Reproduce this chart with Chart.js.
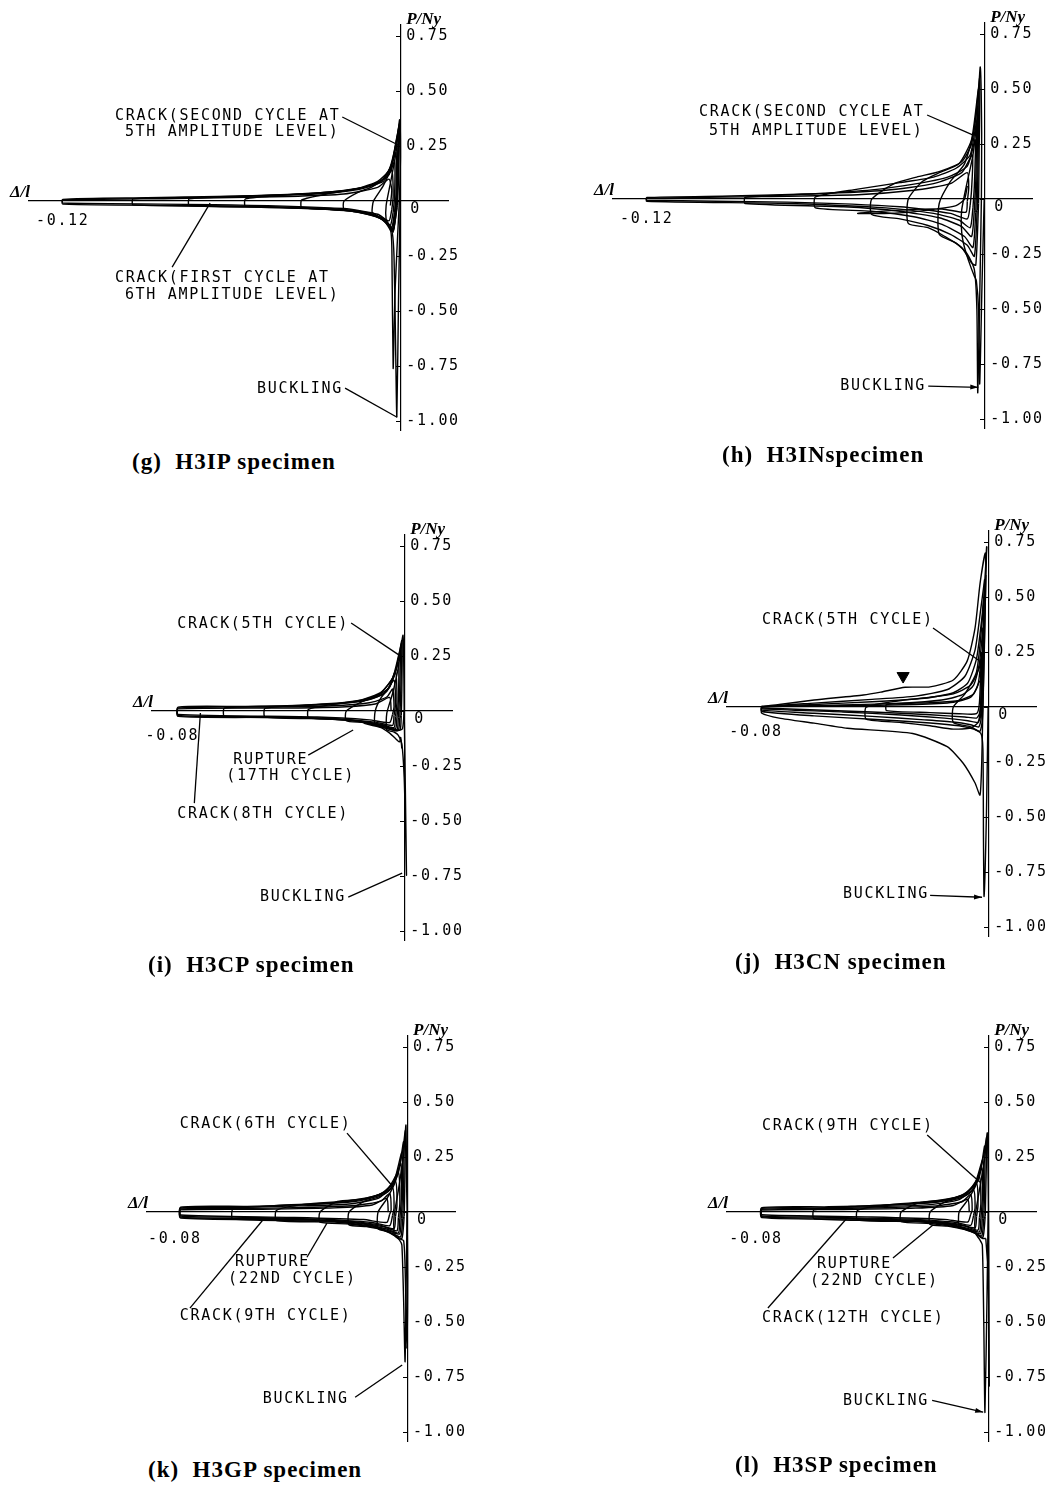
<!DOCTYPE html>
<html lang="en">
<head>
<meta charset="UTF-8">
<title>H3 specimens - hysteresis loops</title>
<script src="https://cdn.jsdelivr.net/npm/chart.js"></script>
<style>
  html, body { margin: 0; padding: 0; background: #fff; overflow: hidden; }
  body { width: 1045px; height: 1487px; position: relative; }
  canvas { position: absolute; }
  .cap { position: absolute; font: bold 23px "Liberation Serif", serif; line-height: 1; white-space: pre; letter-spacing: 1px; color: #000; }
</style>
</head>
<body>
<script>
// axis ticks
const yTicks = [0.75, 0.5, 0.25, 0, -0.25, -0.5, -0.75, -1.0];
const Y_MIN = -1.04, Y_MAX = 0.8;

// loops, [Δ/l, P/Ny]
const gLoops = [
  [[0,0],[-0.0006,-0.45],[-0.0012,-0.98],[-0.0017,-0.6],[-0.0022,-0.25],[-0.0028,-0.145],[-0.004,-0.11],[-0.005,-0.085],[-0.005,-0.02],[-0.0035,0.08],[-0.0015,0.22],[-0.0002,0.37],[0.0001,0.2],[-0.0003,0]],
  [[-0.0003,0],[-0.0018,-0.4],[-0.0025,-0.76],[-0.0029,-0.3],[-0.0033,-0.14],[-0.006,-0.085],[-0.009,-0.06],[-0.01,-0.05],[-0.0095,0.0],[-0.006,0.07],[-0.003,0.16],[-0.001,0.3],[-0.0003,0.35],[-0.0006,0.1],[-0.001,-0.02]],
  [[-0.001,-0.02],[-0.0022,-0.12],[-0.003,-0.135],[-0.005,-0.095],[-0.01,-0.06],[-0.015,-0.045],[-0.02,-0.037],[-0.02,0.0],[-0.015,0.04],[-0.01,0.065],[-0.005,0.11],[-0.003,0.17],[-0.0015,0.27],[-0.0005,0.33],[-0.0008,0.1],[-0.0012,-0.03]],
  [[-0.0012,-0.03],[-0.0023,-0.13],[-0.0032,-0.125],[-0.006,-0.085],[-0.012,-0.055],[-0.02,-0.04],[-0.035,-0.03],[-0.035,0.005],[-0.025,0.035],[-0.015,0.058],[-0.008,0.09],[-0.004,0.14],[-0.002,0.23],[-0.0008,0.3],[-0.001,0.08],[-0.0015,-0.04]],
  [[-0.0015,-0.04],[-0.0025,-0.14],[-0.0036,-0.118],[-0.007,-0.08],[-0.015,-0.05],[-0.03,-0.034],[-0.055,-0.024],[-0.055,0.01],[-0.04,0.028],[-0.025,0.042],[-0.012,0.066],[-0.006,0.1],[-0.003,0.17],[-0.0012,0.26],[-0.0012,0.05],[-0.0018,-0.05]],
  [[-0.0018,-0.05],[-0.0028,-0.13],[-0.004,-0.11],[-0.008,-0.072],[-0.018,-0.045],[-0.04,-0.03],[-0.075,-0.02],[-0.075,0.01],[-0.05,0.024],[-0.03,0.036],[-0.015,0.056],[-0.007,0.09],[-0.0035,0.15],[-0.0015,0.22],[-0.0015,0.03],[-0.002,-0.05]],
  [[-0.002,-0.05],[-0.003,-0.12],[-0.005,-0.09],[-0.01,-0.062],[-0.02,-0.042],[-0.05,-0.026],[-0.095,-0.017],[-0.095,0.01],[-0.07,0.018],[-0.04,0.03],[-0.02,0.046],[-0.009,0.076],[-0.004,0.12],[-0.002,0.18],[-0.002,0.02],[-0.0025,-0.05]],
  [[-0.0025,-0.05],[-0.0035,-0.11],[-0.006,-0.08],[-0.012,-0.052],[-0.025,-0.034],[-0.06,-0.022],[-0.12,-0.014],[-0.12,0.008],[-0.09,0.015],[-0.06,0.022],[-0.03,0.032],[-0.015,0.052],[-0.006,0.09],[-0.003,0.14],[-0.0025,0.02],[-0.003,-0.04]],
  [[-0.003,-0.04],[-0.004,-0.09],[-0.008,-0.06],[-0.02,-0.034],[-0.06,-0.017],[-0.12,-0.009],[-0.12,0.005],[-0.08,0.012],[-0.04,0.021],[-0.02,0.032],[-0.008,0.062],[-0.004,0.1],[-0.003,0.05],[-0.0035,-0.02]]
];

const hLoops = [
  [[0,0],[-0.0008,-0.4],[-0.0016,-0.84],[-0.002,-0.5],[-0.0028,-0.37],[-0.0035,-0.35],[-0.005,-0.3],[-0.007,-0.22],[-0.008,-0.15],[-0.008,-0.05],[-0.006,0.08],[-0.004,0.2],[-0.0025,0.38],[-0.0014,0.6],[-0.0009,0.3],[-0.001,0]],
  [[-0.001,0],[-0.0018,-0.6],[-0.0023,-0.88],[-0.0026,-0.5],[-0.0035,-0.32],[-0.006,-0.25],[-0.01,-0.2],[-0.016,-0.16],[-0.016,-0.02],[-0.012,0.08],[-0.007,0.16],[-0.0035,0.32],[-0.0016,0.55],[-0.0018,0.2],[-0.002,-0.02]],
  [[-0.002,-0.02],[-0.003,-0.3],[-0.0045,-0.29],[-0.008,-0.22],[-0.014,-0.17],[-0.02,-0.13],[-0.027,-0.11],[-0.027,0.0],[-0.022,0.08],[-0.016,0.12],[-0.009,0.16],[-0.0045,0.27],[-0.002,0.5],[-0.0022,0.15],[-0.0025,-0.05]],
  [[-0.0025,-0.05],[-0.0035,-0.26],[-0.006,-0.21],[-0.012,-0.16],[-0.02,-0.12],[-0.03,-0.09],[-0.04,-0.07],[-0.04,0.0],[-0.032,0.07],[-0.024,0.1],[-0.016,0.125],[-0.008,0.17],[-0.0045,0.25],[-0.0024,0.42],[-0.0026,0.1],[-0.003,-0.06]],
  [[-0.003,-0.06],[-0.004,-0.22],[-0.007,-0.17],[-0.015,-0.115],[-0.025,-0.08],[-0.04,-0.055],[-0.06,-0.04],[-0.06,0.01],[-0.045,0.045],[-0.03,0.075],[-0.018,0.1],[-0.01,0.14],[-0.005,0.2],[-0.0028,0.34],[-0.003,0.08],[-0.0035,-0.05]],
  [[-0.0035,-0.05],[-0.0045,-0.17],[-0.008,-0.125],[-0.016,-0.085],[-0.03,-0.055],[-0.05,-0.035],[-0.085,-0.02],[-0.085,0.008],[-0.06,0.024],[-0.04,0.042],[-0.025,0.068],[-0.013,0.1],[-0.006,0.15],[-0.0032,0.27],[-0.0035,0.06],[-0.004,-0.04]],
  [[-0.004,-0.04],[-0.005,-0.13],[-0.009,-0.095],[-0.018,-0.065],[-0.035,-0.04],[-0.07,-0.02],[-0.12,-0.01],[-0.12,0.007],[-0.09,0.014],[-0.06,0.024],[-0.035,0.04],[-0.018,0.07],[-0.008,0.12],[-0.0042,0.2],[-0.0045,0.04],[-0.005,-0.03]],
  [[-0.005,-0.03],[-0.006,-0.09],[-0.012,-0.065],[-0.03,-0.035],[-0.07,-0.014],[-0.12,-0.005],[-0.12,0.004],[-0.08,0.011],[-0.045,0.02],[-0.025,0.04],[-0.012,0.07],[-0.006,0.12],[-0.0055,0.05],[-0.006,-0.01]],
  [[-0.006,-0.01],[-0.0065,-0.06],[-0.015,-0.045],[-0.03,-0.05],[-0.045,-0.065],[-0.033,-0.065],[-0.02,-0.05],[-0.01,-0.03],[-0.007,0.0],[-0.006,0.06]]
];

const iLoops = [
  [[0,0],[0.0004,-0.35],[0.0008,-0.745],[0.0005,-0.55],[0.0,-0.3],[-0.0008,-0.15],[-0.002,-0.11],[-0.0035,-0.095],[-0.006,-0.085],[-0.006,-0.01],[-0.004,0.08],[-0.002,0.2],[-0.0004,0.345],[-0.0001,0.15],[0,0]],
  [[0,0],[-0.0006,-0.08],[-0.0025,-0.09],[-0.005,-0.082],[-0.01,-0.062],[-0.01,0.0],[-0.008,0.06],[-0.005,0.11],[-0.0025,0.2],[-0.0008,0.32],[-0.0008,0.1],[-0.001,-0.02]],
  [[-0.001,-0.02],[-0.0014,-0.085],[-0.0035,-0.088],[-0.0083,-0.07],[-0.014,-0.052],[-0.02,-0.044],[-0.02,0.0],[-0.015,0.04],[-0.0083,0.08],[-0.004,0.15],[-0.0018,0.26],[-0.0008,0.31],[-0.0012,0.08],[-0.0015,-0.03]],
  [[-0.0015,-0.03],[-0.002,-0.085],[-0.005,-0.078],[-0.01,-0.06],[-0.02,-0.04],[-0.033,-0.03],[-0.033,0.008],[-0.025,0.03],[-0.015,0.05],[-0.008,0.085],[-0.0035,0.16],[-0.0014,0.27],[-0.0016,0.07],[-0.002,-0.03]],
  [[-0.002,-0.03],[-0.0025,-0.085],[-0.006,-0.072],[-0.012,-0.052],[-0.025,-0.036],[-0.048,-0.027],[-0.048,0.012],[-0.035,0.026],[-0.02,0.04],[-0.01,0.065],[-0.005,0.11],[-0.002,0.22],[-0.002,0.05],[-0.0025,-0.03]],
  [[-0.0025,-0.03],[-0.003,-0.08],[-0.007,-0.066],[-0.015,-0.046],[-0.03,-0.032],[-0.062,-0.024],[-0.062,0.014],[-0.045,0.022],[-0.025,0.032],[-0.012,0.052],[-0.006,0.09],[-0.003,0.18],[-0.0025,0.04],[-0.003,-0.025]],
  [[-0.003,-0.025],[-0.0035,-0.075],[-0.008,-0.06],[-0.018,-0.042],[-0.04,-0.029],[-0.078,-0.024],[-0.078,0.018],[-0.055,0.021],[-0.03,0.028],[-0.015,0.044],[-0.007,0.078],[-0.0035,0.14],[-0.003,0.03],[-0.0035,-0.02]],
  [[-0.0035,-0.02],[-0.004,-0.065],[-0.01,-0.05],[-0.025,-0.034],[-0.05,-0.025],[-0.078,-0.02],[-0.078,0.014],[-0.05,0.018],[-0.025,0.024],[-0.012,0.038],[-0.006,0.064],[-0.004,0.1],[-0.0035,0.02],[-0.004,-0.015]],
  [[-0.004,-0.015],[-0.005,-0.052],[-0.012,-0.04],[-0.03,-0.027],[-0.078,-0.015],[-0.078,0.01],[-0.04,0.014],[-0.02,0.02],[-0.01,0.032],[-0.005,0.062],[-0.0045,0.0]],
  [[-0.014,-0.055],[-0.008,-0.075],[-0.005,-0.1],[-0.003,-0.125],[-0.0016,-0.14],[-0.0012,-0.12],[-0.0008,-0.17]]
];

const jLoops = [
  [[0,0],[-0.0006,-0.5],[-0.0014,-0.86],[-0.0016,-0.6],[-0.0018,-0.19],[-0.0025,-0.12],[-0.006,-0.09],[-0.012,-0.07],[-0.012,0.0],[-0.008,0.06],[-0.004,0.16],[-0.002,0.4],[-0.0008,0.65],[-0.0005,0.73]],
  [[-0.0005,0.73],[-0.0012,0.35],[-0.0018,0.0],[-0.0022,-0.25],[-0.0028,-0.4],[-0.0045,-0.345],[-0.0086,-0.255],[-0.0141,-0.18],[-0.026,-0.12],[-0.0486,-0.096],[-0.06,-0.073],[-0.072,-0.05],[-0.078,-0.028],[-0.078,0.0],[-0.072,0.012],[-0.06,0.032],[-0.043,0.055],[-0.037,0.068],[-0.0286,0.09],[-0.02,0.092],[-0.012,0.123],[-0.0072,0.21],[-0.0045,0.36],[-0.0028,0.56],[-0.001,0.7],[-0.0008,0.6]],
  [[-0.0008,0.6],[-0.0014,0.2],[-0.002,-0.06],[-0.0028,-0.11],[-0.005,-0.1],[-0.01,-0.085],[-0.02,-0.072],[-0.04,-0.055],[-0.06,-0.04],[-0.078,-0.02],[-0.078,0.0],[-0.06,0.018],[-0.04,0.035],[-0.025,0.05],[-0.014,0.08],[-0.008,0.14],[-0.0045,0.26],[-0.0025,0.45],[-0.0012,0.58]],
  [[-0.0012,0.58],[-0.0018,0.15],[-0.0024,-0.05],[-0.0032,-0.09],[-0.006,-0.08],[-0.012,-0.068],[-0.022,-0.058],[-0.04,-0.042],[-0.06,-0.028],[-0.078,-0.014],[-0.078,0.0],[-0.06,0.012],[-0.04,0.024],[-0.022,0.04],[-0.012,0.065],[-0.007,0.11],[-0.004,0.22],[-0.0022,0.4],[-0.0015,0.5]],
  [[-0.0015,0.5],[-0.002,0.1],[-0.0026,-0.04],[-0.0035,-0.07],[-0.007,-0.062],[-0.015,-0.05],[-0.03,-0.036],[-0.05,-0.022],[-0.078,-0.008],[-0.078,0.002],[-0.055,0.008],[-0.03,0.018],[-0.016,0.032],[-0.009,0.055],[-0.005,0.1],[-0.003,0.2],[-0.0018,0.36]],
  [[-0.0018,0.36],[-0.0024,0.05],[-0.003,-0.03],[-0.004,-0.05],[-0.008,-0.045],[-0.02,-0.035],[-0.04,-0.022],[-0.078,-0.004],[-0.078,0.004],[-0.05,0.006],[-0.025,0.012],[-0.012,0.022],[-0.006,0.045],[-0.0035,0.1],[-0.0022,0.25]],
  [[-0.0022,0.25],[-0.0026,0.0],[-0.0035,-0.07],[-0.006,-0.095],[-0.012,-0.1],[-0.02,-0.085],[-0.03,-0.07],[-0.042,-0.055],[-0.042,0.0],[-0.03,0.03],[-0.02,0.045],[-0.012,0.06],[-0.006,0.1],[-0.003,0.18],[-0.0024,0.22]],
  [[-0.0024,0.22],[-0.003,0.02],[-0.004,-0.03],[-0.01,-0.03],[-0.02,-0.025],[-0.035,-0.016],[-0.035,0.012],[-0.02,0.02],[-0.01,0.03],[-0.005,0.06],[-0.003,0.12]]
];
const jMarker = [[-0.0293, 0.141]];

const kLoops = [
  [[0,0],[-0.0003,-0.3],[-0.0007,-0.68],[-0.0012,-0.4],[-0.0018,-0.15],[-0.0026,-0.127],[-0.004,-0.11],[-0.0045,-0.095],[-0.0045,-0.02],[-0.003,0.1],[-0.0012,0.26],[-0.0004,0.395],[-0.0002,0.15],[0,0]],
  [[0,0],[0.0002,-0.3],[-0.0001,-0.62],[-0.0006,-0.3],[-0.0012,-0.13],[-0.003,-0.12],[-0.006,-0.092],[-0.01,-0.075],[-0.01,0.0],[-0.007,0.06],[-0.004,0.14],[-0.0015,0.28],[-0.0006,0.37],[-0.0008,0.12],[-0.001,-0.02]],
  [[-0.001,-0.02],[-0.0018,-0.12],[-0.004,-0.108],[-0.008,-0.083],[-0.014,-0.066],[-0.02,-0.058],[-0.02,0.0],[-0.015,0.048],[-0.01,0.068],[-0.006,0.1],[-0.003,0.18],[-0.0012,0.32],[-0.0012,0.1],[-0.0015,-0.03]],
  [[-0.0015,-0.03],[-0.0022,-0.112],[-0.005,-0.097],[-0.01,-0.073],[-0.02,-0.054],[-0.03,-0.046],[-0.03,0.0],[-0.024,0.048],[-0.015,0.06],[-0.008,0.088],[-0.0045,0.14],[-0.0018,0.27],[-0.0016,0.08],[-0.002,-0.03]],
  [[-0.002,-0.03],[-0.0026,-0.1],[-0.006,-0.087],[-0.012,-0.064],[-0.025,-0.045],[-0.045,-0.038],[-0.045,0.008],[-0.035,0.036],[-0.02,0.052],[-0.01,0.078],[-0.005,0.125],[-0.0022,0.22],[-0.002,0.06],[-0.0025,-0.03]],
  [[-0.0025,-0.03],[-0.003,-0.095],[-0.007,-0.077],[-0.015,-0.054],[-0.03,-0.04],[-0.06,-0.032],[-0.06,0.012],[-0.045,0.03],[-0.028,0.04],[-0.014,0.06],[-0.007,0.098],[-0.003,0.18],[-0.0025,0.04],[-0.003,-0.025]],
  [[-0.003,-0.025],[-0.0035,-0.085],[-0.008,-0.067],[-0.018,-0.047],[-0.04,-0.034],[-0.078,-0.027],[-0.078,0.022],[-0.055,0.026],[-0.035,0.034],[-0.018,0.048],[-0.009,0.078],[-0.004,0.14],[-0.0035,0.03],[-0.004,-0.02]],
  [[-0.004,-0.02],[-0.0045,-0.075],[-0.01,-0.057],[-0.022,-0.04],[-0.05,-0.029],[-0.078,-0.023],[-0.078,0.018],[-0.06,0.021],[-0.04,0.027],[-0.02,0.037],[-0.01,0.062],[-0.005,0.11],[-0.0045,0.02],[-0.005,-0.015]],
  [[-0.005,-0.015],[-0.006,-0.062],[-0.012,-0.047],[-0.03,-0.032],[-0.06,-0.023],[-0.078,-0.018],[-0.078,0.014],[-0.06,0.016],[-0.035,0.021],[-0.018,0.03],[-0.009,0.05],[-0.006,0.085],[-0.0055,0.01],[-0.006,-0.01]],
  [[-0.006,-0.01],[-0.007,-0.047],[-0.015,-0.034],[-0.04,-0.024],[-0.078,-0.013],[-0.078,0.01],[-0.05,0.013],[-0.025,0.019],[-0.012,0.032],[-0.007,0.062],[-0.0065,0.0]]
];

const lLoops = [
  [[0,0],[-0.0004,-0.4],[-0.0011,-0.91],[-0.0015,-0.5],[-0.002,-0.15],[-0.0028,-0.127],[-0.004,-0.105],[-0.0045,-0.09],[-0.0045,-0.02],[-0.003,0.1],[-0.0012,0.24],[-0.0003,0.36],[0,0.15],[0.0002,-0.2],[0.0004,-0.79],[0.0001,-0.3],[-0.0008,-0.12]],
  [[-0.0008,-0.12],[-0.002,-0.12],[-0.0045,-0.095],[-0.008,-0.075],[-0.01,-0.068],[-0.01,0.0],[-0.007,0.055],[-0.004,0.13],[-0.0015,0.26],[-0.0005,0.34],[-0.0008,0.1],[-0.001,-0.02]],
  [[-0.001,-0.02],[-0.0018,-0.115],[-0.004,-0.1],[-0.008,-0.08],[-0.014,-0.064],[-0.02,-0.056],[-0.02,0.0],[-0.015,0.045],[-0.01,0.062],[-0.006,0.09],[-0.003,0.16],[-0.0012,0.3],[-0.0012,0.1],[-0.0015,-0.03]],
  [[-0.0015,-0.03],[-0.0022,-0.108],[-0.005,-0.092],[-0.01,-0.07],[-0.02,-0.052],[-0.03,-0.043],[-0.03,0.0],[-0.024,0.042],[-0.015,0.055],[-0.008,0.08],[-0.0045,0.13],[-0.0018,0.24],[-0.0016,0.08],[-0.002,-0.03]],
  [[-0.002,-0.03],[-0.0026,-0.098],[-0.006,-0.083],[-0.012,-0.061],[-0.025,-0.043],[-0.045,-0.036],[-0.045,0.008],[-0.035,0.033],[-0.02,0.048],[-0.01,0.072],[-0.005,0.115],[-0.0022,0.2],[-0.002,0.06],[-0.0025,-0.03]],
  [[-0.0025,-0.03],[-0.003,-0.09],[-0.007,-0.074],[-0.015,-0.052],[-0.03,-0.039],[-0.06,-0.03],[-0.06,0.01],[-0.045,0.027],[-0.028,0.037],[-0.014,0.055],[-0.007,0.09],[-0.003,0.16],[-0.0025,0.04],[-0.003,-0.025]],
  [[-0.003,-0.025],[-0.0035,-0.082],[-0.008,-0.064],[-0.018,-0.045],[-0.04,-0.033],[-0.078,-0.025],[-0.078,0.02],[-0.055,0.024],[-0.035,0.031],[-0.018,0.044],[-0.009,0.072],[-0.004,0.13],[-0.0035,0.03],[-0.004,-0.02]],
  [[-0.004,-0.02],[-0.0045,-0.072],[-0.01,-0.055],[-0.022,-0.039],[-0.05,-0.028],[-0.078,-0.021],[-0.078,0.017],[-0.06,0.019],[-0.04,0.024],[-0.02,0.034],[-0.01,0.057],[-0.005,0.1],[-0.0045,0.02],[-0.005,-0.015]],
  [[-0.005,-0.015],[-0.006,-0.06],[-0.012,-0.045],[-0.03,-0.031],[-0.06,-0.022],[-0.078,-0.017],[-0.078,0.013],[-0.06,0.015],[-0.035,0.02],[-0.018,0.028],[-0.009,0.047],[-0.006,0.08],[-0.0055,0.01],[-0.006,-0.01]],
  [[-0.006,-0.01],[-0.007,-0.045],[-0.015,-0.033],[-0.04,-0.022],[-0.078,-0.012],[-0.078,0.009],[-0.05,0.012],[-0.025,0.018],[-0.012,0.03],[-0.007,0.058],[-0.0065,0.0]]
];

// annotations: [text, x, y] and leaders [x1, y1, x2, y2, arrowhead]
const gText = [
  ['CRACK(SECOND CYCLE AT', -0.1014, 0.386],
  ['5TH AMPLITUDE LEVEL)', -0.0979, 0.314],
  ['CRACK(FIRST CYCLE AT', -0.1014, -0.35],
  ['6TH AMPLITUDE LEVEL)', -0.0979, -0.427],
  ['BUCKLING', -0.0509, -0.855]
];
const gLeads = [
  [-0.0206, 0.382, -0.0007, 0.255, false],
  [-0.0811, -0.30, -0.0676, -0.009, false],
  [-0.0196, -0.85, -0.0011, -0.982, false]
];
const hText = [
  ['CRACK(SECOND CYCLE AT', -0.1014, 0.395],
  ['5TH AMPLITUDE LEVEL)', -0.0979, 0.309],
  ['BUCKLING', -0.0512, -0.85]
];
const hLeads = [
  [-0.0203, 0.382, -0.0039, 0.291, false],
  [-0.0199, -0.85, -0.0021, -0.855, true]
];
const iText = [
  ['CRACK(5TH CYCLE)', -0.0783, 0.395],
  ['RUPTURE', -0.059, -0.223],
  ['(17TH CYCLE)', -0.0614, -0.295],
  ['CRACK(8TH CYCLE)', -0.0783, -0.468],
  ['BUCKLING', -0.0497, -0.845]
];
const iLeads = [
  [-0.0183, 0.40, -0.0007, 0.245, false],
  [-0.0331, -0.20, -0.0176, -0.086, false],
  [-0.0724, -0.418, -0.0703, -0.009, false],
  [-0.0193, -0.845, -0.0007, -0.736, false]
];
const jText = [
  ['CRACK(5TH CYCLE)', -0.0779, 0.395],
  ['BUCKLING', -0.05, -0.85]
];
const jLeads = [
  [-0.019, 0.359, -0.0034, 0.214, false],
  [-0.02, -0.855, -0.0021, -0.864, true]
];
const kText = [
  ['CRACK(6TH CYCLE)', -0.0783, 0.40],
  ['RUPTURE', -0.0593, -0.227],
  ['(22ND CYCLE)', -0.0617, -0.305],
  ['CRACK(9TH CYCLE)', -0.0783, -0.473],
  ['BUCKLING', -0.0497, -0.85]
];
const kLeads = [
  [-0.0207, 0.359, -0.0048, 0.114, false],
  [-0.0345, -0.205, -0.0276, -0.05, false],
  [-0.0748, -0.436, -0.0497, -0.036, false],
  [-0.0179, -0.841, -0.0017, -0.695, false]
];
const lText = [
  ['CRACK(9TH CYCLE)', -0.0779, 0.391],
  ['RUPTURE', -0.059, -0.236],
  ['(22ND CYCLE)', -0.0614, -0.314],
  ['CRACK(12TH CYCLE)', -0.0779, -0.482],
  ['BUCKLING', -0.05, -0.859]
];
const lLeads = [
  [-0.021, 0.35, -0.0028, 0.136, false],
  [-0.0328, -0.209, -0.019, -0.059, false],
  [-0.0759, -0.436, -0.0486, -0.027, false],
  [-0.0193, -0.855, -0.0017, -0.909, true]
];

// page layout: where each origin sits, px per unit
const K_Y = 220;
const PAD = {left: 30, top: 30, right: 72, bottom: 16};
const panels = [
  {loops: gLoops, texts: gText, leads: gLeads, origin: [400, 201], kx: 2810, xMin: -0.132, xMax: 0.017, xTick: -0.12, xPad: 11, caption: '(g)  H3IP specimen', cap: [132, 450]},
  {loops: hLoops, texts: hText, leads: hLeads, origin: [984, 199], kx: 2810, xMin: -0.132, xMax: 0.017, xTick: -0.12, xPad: 11, caption: '(h)  H3INspecimen', cap: [722, 443]},
  {loops: iLoops, texts: iText, leads: iLeads, origin: [404, 711], kx: 2900, xMin: -0.087, xMax: 0.0165, xTick: -0.08, xPad: 16, caption: '(i)  H3CP specimen', cap: [148, 953]},
  {loops: jLoops, texts: jText, leads: jLeads, marker: jMarker, origin: [988, 707], kx: 2900, xMin: -0.09, xMax: 0.0165, xTick: -0.08, xPad: 16, caption: '(j)  H3CN specimen', cap: [735, 950]},
  {loops: kLoops, texts: kText, leads: kLeads, origin: [407, 1212], kx: 2900, xMin: -0.0896, xMax: 0.0165, xTick: -0.08, xPad: 18, caption: '(k)  H3GP specimen', cap: [148, 1458]},
  {loops: lLoops, texts: lText, leads: lLeads, origin: [988, 1212], kx: 2900, xMin: -0.09, xMax: 0.0165, xTick: -0.08, xPad: 18, caption: '(l)  H3SP specimen', cap: [735, 1453]}
];

const fmtY = v => v === 0 ? '0' : v.toFixed(2);
const PLOT_FONT = '15px "DejaVu Sans Mono"';
const SPACING = '1.7px';

// tick labels right of the vertical axis, notes, leaders, axis names
const notes = {
  id: 'notes',
  beforeDraw(chart) { chart.ctx.letterSpacing = SPACING; },
  afterDraw(chart, args, o) {
    const {ctx, chartArea, scales: {x, y}} = chart;
    const X = v => x.getPixelForValue(v), Y = v => y.getPixelForValue(v);
    ctx.save();
    ctx.fillStyle = '#000';
    ctx.strokeStyle = '#000';
    ctx.font = PLOT_FONT;
    ctx.letterSpacing = SPACING;
    ctx.textAlign = 'left';
    ctx.textBaseline = 'middle';
    y.ticks.forEach(t => {
      const zero = t.value === 0;
      ctx.fillText(t.label ?? fmtY(t.value), X(0) + (zero ? 10 : 6), Y(t.value) + (zero ? 8 : 0));
    });
    o.texts.forEach(([s, tx, ty]) => ctx.fillText(s, X(tx), Y(ty)));
    ctx.lineWidth = 1.3;
    o.leads.forEach(([x1, y1, x2, y2, arrow]) => {
      const ax = X(x1), ay = Y(y1), bx = X(x2), by = Y(y2);
      ctx.beginPath();
      ctx.moveTo(ax, ay);
      ctx.lineTo(bx, by);
      ctx.stroke();
      if (arrow) {
        const a = Math.atan2(by - ay, bx - ax);
        ctx.beginPath();
        ctx.moveTo(bx, by);
        ctx.lineTo(bx - 8 * Math.cos(a) + 2.5 * Math.sin(a), by - 8 * Math.sin(a) - 2.5 * Math.cos(a));
        ctx.lineTo(bx - 8 * Math.cos(a) - 2.5 * Math.sin(a), by - 8 * Math.sin(a) + 2.5 * Math.cos(a));
        ctx.closePath();
        ctx.fill();
      }
    });
    ctx.letterSpacing = '0px';
    ctx.font = 'italic bold 17px "Liberation Serif"';
    ctx.textBaseline = 'alphabetic';
    ctx.fillText('P/Ny', X(0) + 6, chartArea.top - 1);
    ctx.textAlign = 'right';
    ctx.fillText('Δ/l', chartArea.left + 1, Y(0) - 4);
    ctx.restore();
  }
};

panels.forEach(p => {
  const cv = document.createElement('canvas');
  const w = Math.round((p.xMax - p.xMin) * p.kx + PAD.left + PAD.right);
  const h = Math.round((Y_MAX - Y_MIN) * K_Y + PAD.top + PAD.bottom);
  cv.width = w;
  cv.height = h;
  cv.style.width = w + 'px';
  cv.style.height = h + 'px';
  cv.style.left = (p.origin[0] + p.xMin * p.kx - PAD.left) + 'px';
  cv.style.top = (p.origin[1] - Y_MAX * K_Y - PAD.top) + 'px';
  document.body.appendChild(cv);

  const datasets = p.loops.map(loop => ({
    data: loop.map(([x, y]) => ({x, y})),
    showLine: true,
    borderColor: '#000',
    borderWidth: 1.4,
    pointRadius: 0,
    tension: 0.2,
    clip: false
  }));
  if (p.marker) {
    datasets.push({
      data: p.marker.map(([x, y]) => ({x, y})),
      pointStyle: 'triangle',
      rotation: 180,
      pointRadius: 7,
      backgroundColor: '#000',
      borderColor: '#000'
    });
  }

  new Chart(cv, {
    type: 'scatter',
    data: {datasets},
    options: {
      responsive: false,
      animation: false,
      events: [],
      layout: {padding: PAD},
      plugins: {
        legend: {display: false},
        tooltip: {enabled: false},
        notes: {texts: p.texts, leads: p.leads}
      },
      scales: {
        x: {
          type: 'linear', min: p.xMin, max: p.xMax, position: {y: 0},
          afterBuildTicks: s => { s.ticks = [{value: p.xTick}]; },
          grid: {display: false, drawTicks: false},
          border: {display: true, color: '#000', width: 1.2},
          ticks: {color: '#000', padding: p.xPad, maxRotation: 0, font: {family: 'DejaVu Sans Mono', size: 15}, callback: v => v.toFixed(2)}
        },
        y: {
          type: 'linear', min: Y_MIN, max: Y_MAX, position: {x: 0},
          afterBuildTicks: s => { s.ticks = yTicks.map(v => ({value: v})); },
          grid: {drawOnChartArea: false, drawTicks: true, tickLength: 4, color: '#000'},
          border: {display: true, color: '#000', width: 1.2},
          ticks: {display: false, callback: fmtY}
        }
      }
    },
    plugins: [notes]
  });

  const cap = document.createElement('div');
  cap.className = 'cap';
  cap.textContent = p.caption;
  cap.style.left = p.cap[0] + 'px';
  cap.style.top = p.cap[1] + 'px';
  document.body.appendChild(cap);
});
</script>
</body>
</html>
